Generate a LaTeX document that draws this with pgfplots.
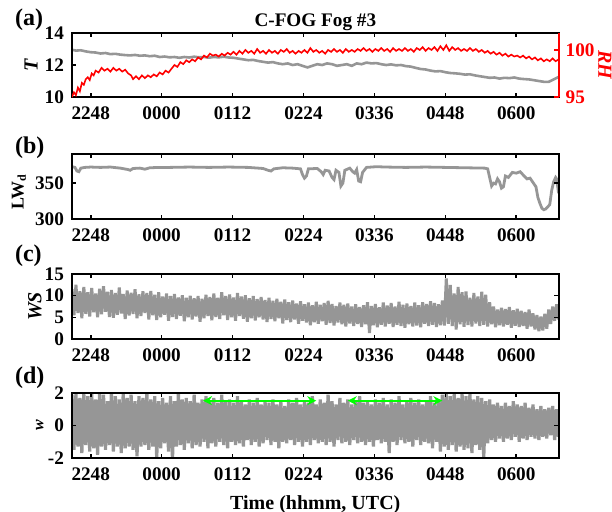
\documentclass[border=0pt]{standalone}
\usepackage{fontspec}
\setmainfont{Liberation Serif}
\usepackage{pgfplots}
\pgfplotsset{compat=1.18}
\usetikzlibrary{arrows.meta}
\definecolor{dgray}{RGB}{150,150,150}
\definecolor{mred}{RGB}{255,0,0}
\definecolor{mgreen}{RGB}{0,255,0}
\pgfplotsset{
  panel/.style={
    scale only axis, width=243.3pt, height=32.5pt,
    xmin=-19, xmax=475,
    xtick={0,72,144,216,288,360,432},
    xticklabels={2248,0000,0112,0224,0336,0448,0600},
    tick align=inside, major tick length=2.2pt,
    axis line style={line width=1pt},
    every tick/.style={black, line width=0.8pt},
    /pgf/number format/assume math mode=true,
    tick label style={font=\fontsize{9.6}{11}\selectfont\bfseries},
    xticklabel style={yshift=-1.5pt},
    yticklabel style={xshift=-0.5pt},
    axis on top,
  },
}
\begin{document}
\begin{tikzpicture}
% ---------------- (a)
\begin{axis}[panel, at={(36pt,-16.5pt)}, anchor=north west, height=32pt,
  ymin=10, ymax=14, ytick={10,12,14}, ytick pos=left, xtick pos=both,
  ylabel={\fontsize{10}{12}\selectfont\bfseries\itshape T},
  ylabel style={at={(axis description cs:-0.084,0.5)}, anchor=center}]
\addplot[dgray, line width=1.3pt] coordinates {
(-19,12.95) (-15,12.9) (-10,12.92) (-5,12.85) (0,12.8) (5,12.78) (10,12.72) (15,12.75) (20,12.68) (25,12.7)
(30,12.65) (35,12.62) (40,12.6) (45,12.63) (50,12.58) (55,12.6) (60,12.55) (65,12.58) (70,12.5) (75,12.53)
(80,12.48) (85,12.5) (90,12.45) (95,12.5) (100,12.47) (105,12.52) (110,12.48) (115,12.5) (120,12.46) (125,12.5)
(130,12.48) (135,12.52) (140,12.47) (145,12.45) (150,12.4) (155,12.35) (160,12.3) (165,12.32) (170,12.25) (175,12.2)
(180,12.15) (185,12.18) (190,12.1) (195,12.05) (200,12.1) (205,12.0) (210,12.05) (215,11.95) (220,11.85) (225,11.95)
(230,12.05) (235,12.0) (240,12.1) (245,12.05) (250,11.95) (255,12.0) (260,12.05) (265,11.95) (270,12.1) (275,12.05)
(280,12.15) (285,12.1) (290,12.12) (295,12.05) (300,12.0) (305,12.04) (310,11.98) (315,12.0) (320,11.93) (325,11.9)
(330,11.82) (335,11.75) (340,11.72) (345,11.65) (350,11.6) (355,11.62) (360,11.55) (365,11.5) (370,11.48) (375,11.45)
(380,11.4) (385,11.42) (390,11.35) (395,11.3) (400,11.25) (405,11.2) (410,11.22) (415,11.15) (420,11.2) (425,11.18)
(430,11.22) (435,11.15) (440,11.12) (445,11.1) (450,11.05) (455,11.0) (460,10.95) (465,10.95) (470,11.1) (475,11.25)
};
\end{axis}
\begin{axis}[panel, at={(36pt,-16.5pt)}, anchor=north west, height=32pt,
  axis x line=none, axis y line*=right,
  ymin=95, ymax=101.8, ytick={95,100},
  y axis line style={mred, line width=1pt},
  ytick style={mred, line width=0.8pt},
  yticklabel style={mred, xshift=0.5pt},
  ylabel={\fontsize{10}{12}\selectfont\bfseries\itshape RH},
  ylabel style={mred, at={(axis description cs:1.095,0.5)}, anchor=center, rotate=180}]
\addplot[mred, line width=0.8pt] coordinates {
(-19,95.0) (-17,95.5) (-15,95.2) (-13,96.0) (-11,95.6) (-9,96.5) (-7,96.3) (-5,96.9) (-3,97.1) (-1,96.8)
(1,97.5) (3,97.3) (5,97.8) (8,97.6) (11,98.1) (14,97.8) (17,98.0) (20,97.7) (23,98.1) (26,97.8)
(29,98.0) (32,97.7) (35,97.9) (38,97.5) (41,97.3) (43,96.9) (46,97.2) (49,96.9) (52,97.3) (55,97.0)
(58,97.3) (61,97.1) (64,97.4) (67,97.2) (70,97.6) (73,97.4) (76,97.8) (79,97.6) (82,98.0) (85,98.4)
(88,98.2) (91,98.7) (94,98.5) (97,98.9) (100,98.7) (103,99.0) (106,98.8) (109,99.2) (112,99.0) (115,99.4)
(118,99.2) (121,99.6) (124,99.4) (127,99.5) (130,99.3) (133,99.6) (136,99.4) (139,99.7) (142,99.5) (145,99.8)
(148,99.5) (151,99.9) (154,99.6) (157,100.0) (160,99.7) (163,99.9) (166,99.6) (169,100.1) (172,99.7) (175,99.9)
(178,99.6) (181,100.0) (184,99.7) (187,99.9) (190,99.6) (193,100.0) (196,99.8) (199,100.1) (202,99.7) (205,99.9)
(208,99.6) (211,99.9) (214,99.7) (217,100.0) (220,99.7) (223,100.2) (226,99.8) (229,100.0) (232,99.7) (235,99.9)
(238,99.6) (241,100.0) (244,99.8) (247,100.1) (250,99.8) (253,100.0) (256,99.7) (259,100.1) (262,99.8) (265,100.0)
(268,99.8) (271,100.1) (274,99.9) (277,100.2) (280,99.9) (283,100.1) (286,99.8) (289,100.1) (292,99.9) (295,100.2)
(298,99.9) (301,100.1) (304,99.8) (307,100.2) (310,99.9) (313,100.1) (316,99.9) (319,100.2) (322,99.9) (325,100.1)
(328,99.8) (331,100.2) (334,100.0) (337,100.3) (340,99.9) (343,100.2) (346,100.0) (349,100.3) (352,99.9) (355,100.4)
(358,100.0) (361,100.5) (364,99.9) (367,100.3) (370,100.0) (373,100.2) (376,99.9) (379,100.1) (382,99.9) (385,100.2)
(388,99.9) (391,100.1) (394,99.8) (397,100.0) (400,99.7) (403,99.9) (406,99.6) (409,99.8) (412,99.5) (415,99.7)
(418,99.4) (421,99.6) (424,99.3) (427,99.5) (430,99.3) (433,99.4) (436,99.2) (439,99.4) (442,99.1) (445,99.3)
(448,99.0) (451,99.2) (454,98.9) (457,99.1) (460,98.8) (463,99.0) (466,98.8) (469,99.1) (472,98.8) (475,99.0)
};
\end{axis}
% ---------------- (b)
\begin{axis}[panel, at={(36pt,-77pt)}, anchor=north west,
  ymin=300, ymax=390.7, ytick={300,350},
  ylabel={\fontsize{9}{11}\selectfont\bfseries LW\textsubscript{d}},
  ylabel style={at={(axis description cs:-0.109,0.42)}, anchor=center}]
\addplot[dgray, line width=1.4pt] coordinates {
(-19,373) (-16,372) (-14,367) (-12,366) (-10,371) (-6,372) (0,372.5) (10,372) (20,372.5) (30,371)
(38,369) (40,368) (43,370.5) (50,371) (55,369.5) (60,371.5) (70,372) (80,372) (100,372.5) (120,372)
(140,372.5) (160,372) (175,370.5) (180,368) (183,367) (186,370) (195,371.5) (205,371) (213,370) (215,362)
(217,357) (219,360) (221,370) (230,370.5) (234,366) (236,362) (238,368) (242,367) (245,358) (247,355)
(249,368) (252,365) (254,346) (256,350) (258,368) (263,371) (266,366) (268,364) (270,369) (272,353)
(274,352) (276,365) (280,372) (290,373) (300,372.5) (320,372) (340,372.5) (360,372) (380,371.5) (400,371)
(403,370) (405,358) (407,346) (409,350) (411,349) (413,356) (415,352) (417,343) (419,345) (421,360)
(424,358) (428,365) (432,364) (436,366) (440,360) (443,356) (446,357) (449,351) (452,345) (454,330)
(456,322) (458,315) (460,313) (462,314) (464,317) (466,320) (468,340) (470,352) (472,358) (473,356) (475,336)
};
\end{axis}
% ---------------- (c)
\begin{axis}[panel, at={(36pt,-137pt)}, anchor=north west,
  ymin=0, ymax=15, ytick={0,5,10,15},
  ylabel={\fontsize{10}{12}\selectfont\bfseries\itshape WS},
  ylabel style={at={(axis description cs:-0.076,0.5)}, anchor=center}]
\addplot[dgray, line width=1.5pt, line join=bevel] coordinates {
(-19,11.5) (-17,5.5) (-15,12.5) (-13,6.0) (-11,11.0) (-9,4.8) (-7,12.0) (-5,5.8) (-3,10.8) (-1,5.2)
(1,11.8) (3,6.2) (5,10.5) (7,5.0) (9,11.6) (11,5.7) (13,12.2) (15,6.3) (17,10.9) (19,5.1)
(21,11.3) (23,4.9) (25,10.6) (27,5.6) (29,11.9) (31,5.9) (33,10.4) (35,4.6) (37,11.2) (39,5.4)
(41,10.7) (43,5.8) (45,11.5) (47,4.8) (49,10.3) (51,5.3) (53,11.0) (55,6.0) (57,10.6) (59,4.5)
(61,11.1) (63,5.5) (65,10.2) (67,4.4) (69,10.8) (71,5.0) (73,9.8) (75,5.6) (77,10.5) (79,4.2)
(81,9.9) (83,5.1) (85,10.4) (87,4.6) (89,9.6) (91,5.4) (93,10.1) (95,4.1) (97,9.5) (99,5.0)
(101,10.0) (103,4.5) (105,9.4) (107,5.2) (109,9.9) (111,4.0) (113,9.3) (115,4.8) (117,10.2) (119,5.3)
(121,9.7) (123,4.3) (125,10.5) (127,5.1) (129,9.5) (131,4.6) (133,10.8) (135,5.5) (137,9.9) (139,4.4)
(141,10.3) (143,5.0) (145,9.6) (147,4.2) (149,10.6) (151,5.3) (153,9.8) (155,4.7) (157,10.1) (159,4.0)
(161,9.4) (163,4.8) (165,9.9) (167,4.3) (169,9.2) (171,5.0) (173,9.7) (175,4.5) (177,9.0) (179,3.9)
(181,9.5) (183,4.6) (185,8.8) (187,4.1) (189,9.3) (191,4.8) (193,8.6) (195,3.6) (197,9.1) (199,4.4)
(201,8.5) (203,3.9) (205,8.9) (207,4.5) (209,8.2) (211,3.5) (213,8.7) (215,4.2) (217,8.0) (219,3.8)
(221,8.4) (223,3.2) (225,7.8) (227,3.9) (229,8.6) (231,3.5) (233,7.9) (235,4.1) (237,8.3) (239,3.3)
(241,8.8) (243,3.7) (245,8.1) (247,3.1) (249,7.6) (251,3.8) (253,8.4) (255,3.4) (257,7.9) (259,2.9)
(261,8.2) (263,3.6) (265,7.5) (267,3.0) (269,8.0) (271,3.5) (273,7.4) (275,2.8) (277,7.8) (279,3.4)
(281,8.5) (283,1.4) (285,7.6) (287,3.2) (289,8.1) (291,2.7) (293,7.3) (295,3.3) (297,8.4) (299,2.9)
(301,7.7) (303,3.5) (305,8.3) (307,2.8) (309,7.5) (311,3.3) (313,8.6) (315,3.0) (317,7.9) (319,2.6)
(321,8.2) (323,3.4) (325,7.6) (327,2.9) (329,8.4) (331,3.1) (333,7.8) (335,2.7) (337,8.5) (339,3.5)
(341,8.1) (343,3.0) (345,8.7) (347,3.3) (349,8.3) (351,2.8) (353,8.0) (355,3.2) (357,8.9) (359,3.1)
(361,14.0) (363,3.5) (365,12.5) (367,3.0) (369,10.5) (371,2.2) (373,12.0) (375,3.4) (377,10.8) (379,2.8)
(381,11.0) (383,3.2) (385,9.5) (387,2.9) (389,10.6) (391,3.6) (393,9.8) (395,3.0) (397,10.9) (399,3.3)
(401,10.2) (403,2.9) (405,8.5) (407,3.4) (409,7.5) (411,2.7) (413,6.8) (415,3.2) (417,7.2) (419,2.9)
(421,6.9) (423,3.3) (425,7.4) (427,2.6) (429,6.6) (431,3.1) (433,7.0) (435,2.8) (437,6.5) (439,3.0)
(441,6.2) (443,2.4) (445,6.8) (447,2.9) (449,5.9) (451,2.2) (453,5.5) (455,1.8) (457,5.2) (459,2.0)
(461,5.8) (463,2.4) (465,6.8) (467,3.5) (469,7.5) (471,4.2) (473,8.0) (475,4.5)
};
\end{axis}
% ---------------- (d)
\begin{axis}[panel, at={(36pt,-196.5pt)}, anchor=north west,
  ymin=-2, ymax=2, ytick={-2,0,2},
  ylabel={\fontsize{8}{10}\selectfont\bfseries\itshape w},
  ylabel style={at={(axis description cs:-0.066,0.5)}, anchor=center},
  xlabel={\fontsize{10}{12}\selectfont\bfseries Time (hhmm, UTC)},
  xlabel style={yshift=-0.5pt}]
\addplot[dgray, line width=1.6pt, line join=bevel] coordinates {
(-19,1.9) (-17,-1.5) (-15,2.0) (-13,-1.3) (-11,1.7) (-9,-1.7) (-7,2.0) (-5,-1.2) (-3,1.8) (-1,-1.6)
(1,2.0) (3,-1.4) (5,1.6) (7,-1.8) (9,2.0) (11,-1.3) (13,1.9) (15,-1.5) (17,1.5) (19,-1.2)
(21,2.0) (23,-1.6) (25,1.8) (27,-1.3) (29,1.6) (31,-1.7) (33,2.0) (35,-1.4) (37,1.7) (39,-1.3)
(41,1.9) (43,-1.5) (45,1.5) (47,-1.9) (49,1.8) (51,-1.3) (53,1.7) (55,-1.2) (57,2.0) (59,-1.5)
(61,1.6) (63,-1.3) (65,1.8) (67,-2.0) (69,1.5) (71,-1.4) (73,1.7) (75,-1.1) (77,1.4) (79,-1.6)
(81,1.8) (83,-2.1) (85,1.5) (87,-1.3) (89,2.0) (91,-1.2) (93,1.6) (95,-1.5) (97,1.7) (99,-1.1)
(101,1.5) (103,-1.4) (105,1.9) (107,-1.2) (109,1.4) (111,-1.3) (113,1.6) (115,-1.0) (117,1.8) (119,-1.4)
(121,1.5) (123,-1.1) (125,1.7) (127,-1.3) (129,1.4) (131,-1.0) (133,1.9) (135,-1.2) (137,1.5) (139,-1.4)
(141,1.6) (143,-1.0) (145,1.4) (147,-1.2) (149,1.8) (151,-1.1) (153,1.5) (155,-1.3) (157,1.3) (159,-0.9)
(161,1.6) (163,-1.2) (165,1.4) (167,-1.0) (169,1.7) (171,-1.3) (173,1.3) (175,-1.1) (177,1.5) (179,-0.9)
(181,1.4) (183,-1.2) (185,1.6) (187,-1.0) (189,1.3) (191,-1.4) (193,1.5) (195,-1.0) (197,1.2) (199,-1.1)
(201,1.6) (203,-0.9) (205,1.4) (207,-1.2) (209,1.7) (211,-1.0) (213,1.3) (215,-1.3) (217,1.5) (219,-1.0)
(221,1.4) (223,-1.2) (225,1.8) (227,-0.9) (229,1.3) (231,-1.1) (233,1.6) (235,-1.0) (237,1.4) (239,-1.2)
(241,1.9) (243,-1.0) (245,1.5) (247,-1.3) (249,1.3) (251,-0.9) (253,1.7) (255,-1.1) (257,1.4) (259,-1.0)
(261,1.6) (263,-1.2) (265,1.3) (267,-0.9) (269,1.5) (271,-1.1) (273,1.8) (275,-1.0) (277,1.4) (279,-1.2)
(281,1.5) (283,-1.0) (285,1.3) (287,-1.3) (289,1.6) (291,-0.9) (293,1.4) (295,-1.1) (297,1.7) (299,-1.0)
(301,1.3) (303,-1.7) (305,1.6) (307,-1.0) (309,1.4) (311,-1.2) (313,1.8) (315,-0.9) (317,1.3) (319,-1.1)
(321,1.5) (323,-1.0) (325,1.7) (327,-1.3) (329,1.4) (331,-0.9) (333,1.6) (335,-1.2) (337,1.3) (339,-1.0)
(341,1.5) (343,-1.1) (345,1.8) (347,-1.4) (349,1.4) (351,-1.0) (353,1.6) (355,-1.6) (357,1.9) (359,-1.3)
(361,2.0) (363,-1.5) (365,1.8) (367,-1.2) (369,2.0) (371,-1.6) (373,1.7) (375,-1.3) (377,2.0) (379,-1.5)
(381,1.8) (383,-1.4) (385,2.0) (387,-1.7) (389,1.6) (391,-1.2) (393,1.8) (395,-1.5) (397,1.7) (399,-2.0)
(401,1.5) (403,-1.1) (405,1.6) (407,-0.9) (409,1.3) (411,-1.0) (413,1.4) (415,-0.8) (417,1.2) (419,-1.0)
(421,1.4) (423,-0.8) (425,1.2) (427,-0.9) (429,1.5) (431,-0.7) (433,1.3) (435,-1.0) (437,1.2) (439,-0.8)
(441,1.4) (443,-0.9) (445,1.1) (447,-0.7) (449,1.3) (451,-0.8) (453,1.0) (455,-0.9) (457,1.2) (459,-0.7)
(461,1.0) (463,-0.8) (465,1.1) (467,-0.6) (469,1.2) (471,-0.9) (473,1.0) (475,-0.7)
};
\addplot[mgreen, line width=1pt, {Stealth[length=4.5pt,width=4.5pt]}-{Stealth[length=4.5pt,width=4.5pt]}] coordinates {(114,1.53) (229,1.53)};
\addplot[mgreen, line width=1pt, {Stealth[length=4.5pt,width=4.5pt]}-{Stealth[length=4.5pt,width=4.5pt]}] coordinates {(261,1.53) (357,1.53)};
\end{axis}
% title and panel letters
\node[anchor=base, font=\fontsize{9.6}{11}\selectfont\bfseries] at (157.65pt,-13.2pt) {C-FOG Fog \#3};
\node[anchor=west, font=\fontsize{12}{14}\selectfont\bfseries] at (4pt,-10pt) {(a)};
\node[anchor=west, font=\fontsize{12}{14}\selectfont\bfseries] at (4pt,-74pt) {(b)};
\node[anchor=west, font=\fontsize{12}{14}\selectfont\bfseries] at (4pt,-128pt) {(c)};
\node[anchor=west, font=\fontsize{12}{14}\selectfont\bfseries] at (4pt,-189pt) {(d)};
\pgfresetboundingbox
\path (0,0) rectangle (306pt,-255.5pt);
\end{tikzpicture}
\end{document}
